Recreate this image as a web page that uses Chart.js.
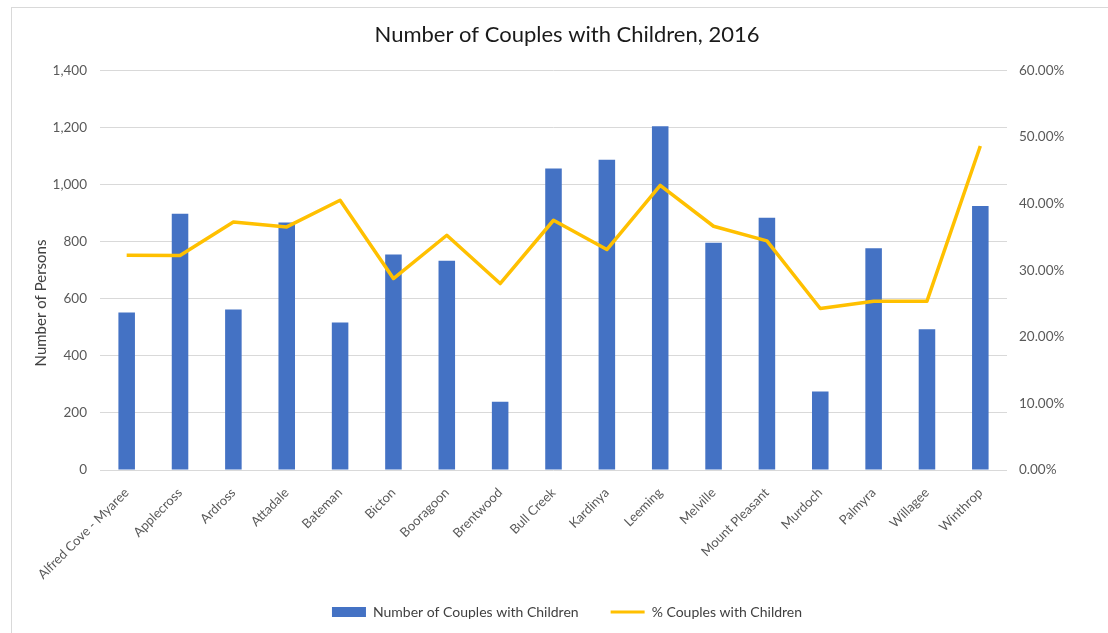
<!DOCTYPE html>
<html>
<head>
<meta charset="utf-8">
<script src="https://cdn.jsdelivr.net/npm/chart.js@4.4.1/dist/chart.umd.min.js"></script>
<style>
  html, body { margin: 0; padding: 0; background: #fff; overflow: hidden; }
  #frame { position: absolute; left: 11px; top: 7px; width: 1200px; height: 700px; border: 1px solid #d9d9d9; }
  #wrap { position: absolute; left: 0; top: 0; width: 1108px; height: 633px; }
</style>
</head>
<body>
<div id="frame"></div>
<div id="wrap"><canvas id="chart" width="1108" height="633"></canvas></div>
<script>
// ---------------------------------------------------------------------------
// Data
// ---------------------------------------------------------------------------
const SUBURBS = [
  "Alfred Cove - Myaree", "Applecross", "Ardross", "Attadale", "Bateman",
  "Bicton", "Booragoon", "Brentwood", "Bull Creek", "Kardinya", "Leeming",
  "Melville", "Mount Pleasant", "Murdoch", "Palmyra", "Willagee", "Winthrop",
];

// Number of couples with children (left axis)
const COUPLES_WITH_CHILDREN = [
  552, 898, 562, 867, 517, 755, 733, 239, 1056, 1087, 1204, 796, 884, 275, 777, 493, 925,
];

// % couples with children (right axis, in percent)
const PCT_COUPLES_WITH_CHILDREN = [
  32.25, 32.2, 37.25, 36.5, 40.5, 28.75, 35.25, 28.0, 37.5, 33.1, 42.75, 36.6, 34.4, 24.25, 25.35, 25.35, 48.65,
];

const PERSONS_MAX = 1400;
const PERSONS_STEP = 200;
const PCT_MAX = 60;
const PCT_STEP = 10;

const TITLE = "Number of Couples with Children, 2016";
const LEFT_AXIS_TITLE = "Number of Persons";
const BAR_LABEL = "Number of Couples with Children";
const LINE_LABEL = "% Couples with Children";

// ---------------------------------------------------------------------------
// Styles
// ---------------------------------------------------------------------------
const FONT = "Lato, 'Open Sans', sans-serif";
const BAR_COLOR = "#4472C4";
const LINE_COLOR = "#FFC000";
const GRID_COLOR = "#d9d9d9";
const TICK_COLOR = "#595959";

// Rotated left axis title, placed as in the reference
const leftTitlePlugin = {
  id: "leftTitle",
  afterDraw(chart) {
    const ctx = chart.ctx;
    ctx.save();
    ctx.translate(41, 303);
    ctx.rotate(-Math.PI / 2);
    ctx.font = "15px " + FONT;
    ctx.fillStyle = "#404040";
    ctx.textAlign = "center";
    ctx.textBaseline = "middle";
    ctx.fillText(LEFT_AXIS_TITLE, 0, 0);
    ctx.restore();
  },
};

const ctx = document.getElementById("chart").getContext("2d");
new Chart(ctx, {
  data: {
    labels: SUBURBS,
    datasets: [
      {
        type: "bar",
        label: BAR_LABEL,
        data: COUPLES_WITH_CHILDREN,
        backgroundColor: BAR_COLOR,
        borderWidth: 0,
        yAxisID: "y",
        order: 1,
        barPercentage: 1,
        categoryPercentage: 0.31,
      },
      {
        type: "line",
        label: LINE_LABEL,
        data: PCT_COUPLES_WITH_CHILDREN,
        borderColor: LINE_COLOR,
        backgroundColor: LINE_COLOR,
        borderWidth: 3.5,
        borderJoinStyle: "round",
        tension: 0,
        pointRadius: 0,
        yAxisID: "y1",
        order: 0,
      },
    ],
  },
  options: {
    responsive: false,
    animation: false,
    layout: { padding: { left: 26, right: 0, top: 0, bottom: 4 } },
    plugins: {
      title: {
        display: true,
        text: TITLE,
        color: "#1a1a1a",
        font: { family: FONT, size: 22, weight: "normal" },
        padding: { top: 22, bottom: 22 },
      },
      legend: {
        position: "bottom",
        labels: {
          font: { family: FONT, size: 14 },
          color: "#404040",
          usePointStyle: true,
          pointStyleWidth: 34,
          boxHeight: 10,
          padding: 32,
          sort: (a, b) => a.datasetIndex - b.datasetIndex,
          generateLabels: (chart) =>
            chart.data.datasets.map((ds, i) => ({
              text: ds.label,
              datasetIndex: i,
              fillStyle: ds.type === "line" ? ds.borderColor : ds.backgroundColor,
              strokeStyle: ds.type === "line" ? ds.borderColor : ds.backgroundColor,
              lineWidth: ds.type === "line" ? 3 : 0,
              pointStyle: ds.type === "line" ? "line" : "rect",
              fontColor: "#404040",
              hidden: false,
            })),
        },
      },
      tooltip: { enabled: false },
    },
    scales: {
      x: {
        afterFit: (s) => {
          s.height = 103;
          // let the long rotated labels run past the axis box instead of being clipped
          s._computeLabelArea = () => null;
        },
        grid: { display: false },
        border: { display: false },
        ticks: {
          color: TICK_COLOR,
          font: { family: FONT, size: 13 },
          minRotation: 45,
          maxRotation: 45,
          autoSkip: false,
          padding: 7,
        },
      },
      y: {
        position: "left",
        min: 0,
        max: PERSONS_MAX,
        afterFit: (s) => { s.width = 74; },
        grid: { color: GRID_COLOR, lineWidth: 1, drawTicks: false },
        border: { display: false },
        ticks: {
          stepSize: PERSONS_STEP,
          color: TICK_COLOR,
          font: { family: FONT, size: 13.5 },
          padding: 13,
          callback: (v) => v.toLocaleString("en-US"),
        },
      },
      y1: {
        position: "right",
        min: 0,
        max: PCT_MAX,
        afterFit: (s) => { s.width = 101; },
        grid: { display: false, drawTicks: false },
        border: { display: false },
        ticks: {
          stepSize: PCT_STEP,
          color: TICK_COLOR,
          font: { family: FONT, size: 13.5 },
          padding: 12,
          callback: (v) => v.toFixed(2) + "%",
        },
      },
    },
  },
  plugins: [leftTitlePlugin],
});
</script>
</body>
</html>
